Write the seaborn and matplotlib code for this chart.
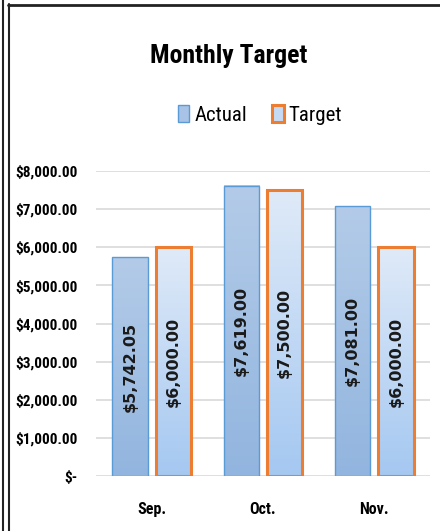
import os
import numpy as np
import pandas as pd
import matplotlib as mpl
import matplotlib.pyplot as plt
import seaborn as sns
from matplotlib import font_manager as fm
from matplotlib.lines import Line2D
from matplotlib.colors import LinearSegmentedColormap

months = ['Sep.', 'Oct.', 'Nov.']
actual = [5742.05, 7619.00, 7081.00]
target = [6000.00, 7500.00, 6000.00]
series = ['Actual', 'Target']

sns.set_style('white')

# look for a narrow font similar to Calibri
fonts = fm.fontManager.ttflist
names = {f.name for f in fonts}
narrow = 'DejaVu Sans'
for n in ['Liberation Sans Narrow', 'Roboto Condensed', 'Open Sans Condensed']:
    if n in names:
        narrow = n
        break
plt.rcParams['font.family'] = [narrow, 'DejaVu Sans']
plt.rcParams['text.color'] = 'black'
plt.rcParams['xtick.color'] = 'black'
plt.rcParams['ytick.color'] = 'black'

# wide bold font for the data labels (like Verdana)
label_font = fm.FontProperties(
    fname=os.path.join(mpl.get_data_path(), 'fonts', 'ttf', 'DejaVuSans-Bold.ttf'),
    size=11.5)

df = pd.DataFrame({'month': months * 2,
                   'value': actual + target,
                   'series': ['Actual'] * 3 + ['Target'] * 3})

W, H = 440, 531
fig = plt.figure(figsize=(W / 100, H / 100), dpi=100)
ax = fig.add_axes([96 / W, 1 - 476 / H, (430 - 96) / W, (476 - 171) / H])

sns.barplot(data=df, x='month', y='value', hue='series', order=months,
            hue_order=series, width=0.78, gap=0.19, ax=ax, legend=False)

# gradient fills like the excel chart
grad = {'Actual': LinearSegmentedColormap.from_list('a', ['#92b5df', '#b3cbe8']),
        'Target': LinearSegmentedColormap.from_list('t', ['#a5c8f1', '#dfeaf8'])}
edge = {'Actual': ('#5b9bd5', 1.0), 'Target': ('#ed7d31', 2.2)}
for i, p in enumerate(ax.patches):
    s = series[i // 3]
    x0, y0 = p.get_x(), p.get_y()
    w, h = p.get_width(), p.get_height()
    g = np.linspace(0, 1, 100).reshape(-1, 1)
    ax.imshow(g, extent=[x0, x0 + w, y0, y0 + h], origin='lower',
              cmap=grad[s], aspect='auto', zorder=2)
    p.set_facecolor('none')
    p.set_edgecolor(edge[s][0])
    p.set_linewidth(edge[s][1])
    p.set_zorder(3)
    ax.text(x0 + w / 2, h / 2, f'${h:,.2f}', rotation=90, ha='center',
            va='center', fontproperties=label_font, color='#1a1a1a', zorder=4)

ax.set_xlim(-0.5, 2.5)
ax.set_ylim(0, 8000)
ax.set_yticks(range(0, 8001, 1000))
ax.set_yticklabels(['$-'] + [f'${v:,.2f}' for v in range(1000, 8001, 1000)])
ax.yaxis.grid(True, color='#d9d9d9', lw=1.2, zorder=0)
ax.set_axisbelow(True)
for sp in ax.spines.values():
    sp.set_visible(False)
ax.tick_params(axis='y', length=0, labelsize=11, pad=13)
ax.tick_params(axis='x', length=0, labelsize=11.5, pad=19)
for t in ax.get_xticklabels() + ax.get_yticklabels():
    t.set_fontweight('bold')
ax.set_xlabel('')
ax.set_ylabel('')

fig.text(229 / W, 1 - 56 / H, 'Monthly Target', ha='center', va='center',
         fontsize=18.5, fontweight='bold')

handles = [mpl.patches.Patch(facecolor='#a8c3e6', edgecolor='#5b9bd5', lw=1.0),
           mpl.patches.Patch(facecolor='#c5dbf5', edgecolor='#ed7d31', lw=2.2)]
fig.legend(handles, series, loc='center', bbox_to_anchor=(260 / W, 1 - 115 / H),
           ncol=2, frameon=False, fontsize=15, handlelength=0.55,
           handleheight=0.9, handletextpad=0.25, columnspacing=1.2)

# outer frame lines
fig.add_artist(Line2D([2.5 / W, 2.5 / W], [0, 1], color='#222222', lw=1.5))
fig.add_artist(Line2D([8.5 / W, 8.5 / W], [0, 1 - 4 / H], color='#222222', lw=1.5))
fig.add_artist(Line2D([8 / W, 1], [1 - 4.5 / H, 1 - 4.5 / H], color='#222222', lw=2))

fig.savefig('out.png', dpi=100)
